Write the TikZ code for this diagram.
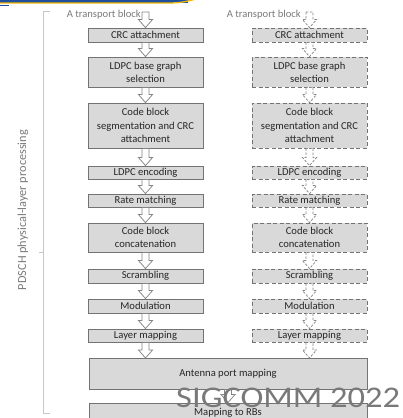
\documentclass[tikz,border=0pt]{standalone}
\usepackage{fontspec}
\setmainfont{Carlito}
\usetikzlibrary{calc}
\definecolor{boxfill}{HTML}{D9D9D9}
\definecolor{boxline}{HTML}{737373}
\definecolor{txt}{HTML}{262626}
\definecolor{lbl}{HTML}{7A7A7A}
\definecolor{arrline}{HTML}{858585}
\definecolor{banblue}{HTML}{1F4E9A}
\definecolor{banyellow}{HTML}{F2B705}
\newcommand\blockarr[3][barrow]{%
  \path[#1] ($(#2)+(-3.5,0)$) -- ($(#3)+(-3.5,-8)$) -- ($(#3)+(-7,-8)$) -- (#3)
    -- ($(#3)+(7,-8)$) -- ($(#3)+(3.5,-8)$) -- ($(#2)+(3.5,0)$) -- cycle;}
\begin{document}
\begin{tikzpicture}[x=1pt,y=-1pt,
  procbox/.style={draw=boxline, fill=boxfill, line width=0.8pt, text=txt, inner sep=0pt,
    minimum width=115pt, align=center, font=\fontsize{10.6}{12.8}\selectfont},
  dbox/.style={procbox, dash pattern=on 4pt off 2.5pt},
  barrow/.style={draw=arrline, fill=white, line width=0.75pt, line join=miter},
  dbarrow/.style={barrow, dash pattern=on 2.5pt off 1.5pt},
  tblabel/.style={text=lbl, inner sep=0pt, font=\fontsize{10.6}{12}\selectfont}]
\useasboundingbox (0,0) rectangle (403,418);
\clip (0,0) rectangle (403,418);
% banner remnant
\fill[banblue] (0,-2) rectangle (188,2.5);
\draw[banyellow, line width=1.3pt] (0,3) -- (168,3) .. controls (182,3) and (188,1) .. (196,-1);
\draw[banblue, line width=1pt] (0,5) -- (9,5);
% bracket and side label
\draw[gray!45, line width=0.6pt] (50,11) -- (43,11) -- (43,413) -- (50,413);
\draw[gray!45, line width=0.6pt] (43,252) -- (39,252);
\node[rotate=90, text=lbl, inner sep=0pt, font=\fontsize{12.3}{13}\selectfont] (side) at (23,210) {PDSCH physical-layer processing};
% left column
\node[tblabel, anchor=base east] (tbl) at (141,17.5) {A transport block};
\coordinate (l0) at (145.5,12);
\node[procbox, minimum height=14pt] (l1) at (145.5,35) {CRC attachment};
\node[procbox, minimum height=30pt] (l2) at (145.5,72) {LDPC base graph\\selection};
\node[procbox, minimum height=45pt, font=\fontsize{10.6}{13.5}\selectfont] (l3) at (145.5,125.5) {Code block\\segmentation and CRC\\attachment};
\node[procbox, minimum height=13pt] (l4) at (145.5,172.5) {LDPC encoding};
\node[procbox, minimum height=13pt] (l5) at (145.5,200.5) {Rate matching};
\node[procbox, minimum height=29pt] (l6) at (145.5,237.5) {Code block\\concatenation};
\node[procbox, minimum height=14pt] (l7) at (145.5,276) {Scrambling};
\node[procbox, minimum height=14pt] (l8) at (145.5,306) {Modulation};
\node[procbox, minimum height=13pt] (l9) at (145.5,335.5) {Layer mapping};
% right column
\node[tblabel, anchor=base east] (tbr) at (301,17.5) {A transport block};
\coordinate (r0) at (309.5,12);
\node[dbox, minimum height=14pt] (r1) at (309.5,35) {CRC attachment};
\node[dbox, minimum height=30pt] (r2) at (309.5,72) {LDPC base graph\\selection};
\node[dbox, minimum height=45pt, font=\fontsize{10.6}{13.5}\selectfont] (r3) at (309.5,125.5) {Code block\\segmentation and CRC\\attachment};
\node[dbox, minimum height=13pt] (r4) at (309.5,172.5) {LDPC encoding};
\node[dbox, minimum height=13pt] (r5) at (309.5,200.5) {Rate matching};
\node[dbox, minimum height=29pt] (r6) at (309.5,237.5) {Code block\\concatenation};
\node[dbox, minimum height=14pt] (r7) at (309.5,276) {Scrambling};
\node[dbox, minimum height=14pt] (r8) at (309.5,306) {Modulation};
\node[dbox, minimum height=13pt] (r9) at (309.5,335.5) {Layer mapping};
% shared boxes
\node[procbox, minimum width=278pt, minimum height=31pt] (ant) at (228,373.5) {Antenna port mapping};
\node[procbox, minimum width=278pt, minimum height=20pt] (rbs) at (228,413) {Mapping to RBs};
\coordinate (antl) at (145.5,358);
\coordinate (antr) at (309.5,358);
% arrows left
\blockarr{l0}{l1.north}
\blockarr{l1.south}{l2.north}
\blockarr{l2.south}{l3.north}
\blockarr{l3.south}{l4.north}
\blockarr{l4.south}{l5.north}
\blockarr{l5.south}{l6.north}
\blockarr{l6.south}{l7.north}
\blockarr{l7.south}{l8.north}
\blockarr{l8.south}{l9.north}
\blockarr{l9.south}{antl}
% arrows right
\blockarr[dbarrow]{r0}{r1.north}
\blockarr[dbarrow]{r1.south}{r2.north}
\blockarr[dbarrow]{r2.south}{r3.north}
\blockarr[dbarrow]{r3.south}{r4.north}
\blockarr[dbarrow]{r4.south}{r5.north}
\blockarr[dbarrow]{r5.south}{r6.north}
\blockarr[dbarrow]{r6.south}{r7.north}
\blockarr[dbarrow]{r7.south}{r8.north}
\blockarr[dbarrow]{r8.south}{r9.north}
\blockarr[dbarrow]{r9.south}{antr}
\blockarr{ant.south}{rbs.north}
% watermark
\node[anchor=base west, inner sep=0pt, text=gray!95!black, xscale=1.15, font=\fontsize{30}{30}\selectfont] (wm) at (176,407.5) {SIGCOMM 2022};
\end{tikzpicture}
\end{document}
